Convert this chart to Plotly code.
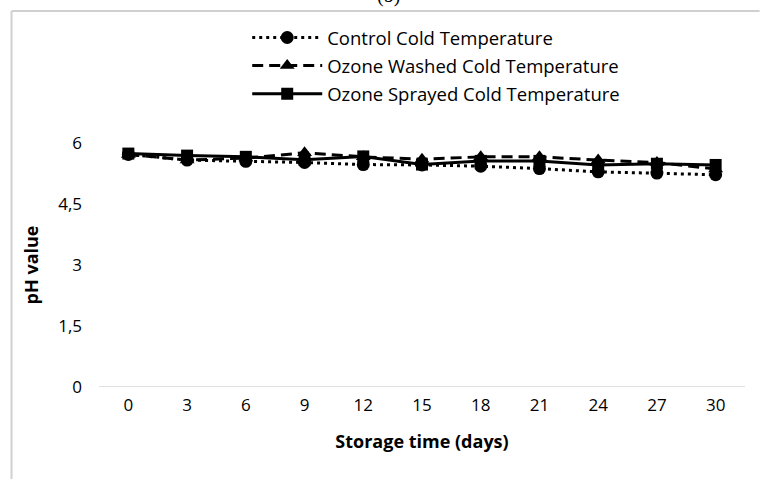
import plotly.graph_objects as go

days = [0, 3, 6, 9, 12, 15, 18, 21, 24, 27, 30]
control = [5.72, 5.58, 5.55, 5.52, 5.47, 5.46, 5.43, 5.37, 5.29, 5.26, 5.22]
washed = [5.72, 5.58, 5.63, 5.76, 5.66, 5.6, 5.66, 5.66, 5.58, 5.52, 5.36]
sprayed = [5.74, 5.69, 5.66, 5.59, 5.67, 5.47, 5.56, 5.56, 5.46, 5.49, 5.46]
names = ["Control Cold Temperature", "Ozone Washed Cold Temperature", "Ozone Sprayed Cold Temperature"]
ytick_vals = [0, 1.5, 3, 4.5, 6]
ytick_text = ["0", "1,5", "3", "4,5", "6"]

FONT = "Open Sans"
FS = 17
LFS = 18.5
TFS = 18

fig = go.Figure()
fig.add_trace(go.Scatter(x=days, y=control, name=names[0], mode="lines+markers", legendgroup="a",
                         line=dict(color="black", width=3, dash="3px,4px"),
                         marker=dict(symbol="circle", size=13, color="black")))
fig.add_trace(go.Scatter(x=days, y=washed, name=names[1], mode="lines+markers", legendgroup="b",
                         line=dict(color="black", width=3, dash="11px,6px"),
                         marker=dict(symbol="triangle-up", size=13, color="black")))
fig.add_trace(go.Scatter(x=days, y=sprayed, name=names[2], mode="lines+markers", legendgroup="c",
                         line=dict(color="black", width=3, dash="solid"),
                         marker=dict(symbol="square", size=12, color="black")))

PW = 646.8
PH = 244.0

fig.update_layout(
    width=760, height=479,
    margin=dict(l=98.6, r=14.6, t=143, b=92, autoexpand=False),
    paper_bgcolor="white", plot_bgcolor="white",
    font=dict(family=FONT, size=FS, color="black"),
    showlegend=True,
    legend=dict(x=(247 - 98.6) / PW, y=(387 - 19) / PH, xanchor="left", yanchor="top",
                itemwidth=70, tracegroupgap=1, bgcolor="rgba(0,0,0,0)",
                font=dict(family=FONT, size=LFS, color="black")),
    xaxis=dict(range=[-1.5, 31.5], tickvals=days, ticktext=[str(d) for d in days],
               showgrid=False, zeroline=False, showline=False, ticks="", automargin=False,
               ticklabelstandoff=6,
               tickfont=dict(family=FONT, size=FS),
               title=dict(text="<b>Storage time (days)</b>", font=dict(family=FONT, size=TFS), standoff=20)),
    yaxis=dict(range=[0, 6], tickvals=ytick_vals, ticktext=ytick_text,
               showgrid=False, zeroline=False, showline=False, ticks="", automargin=False,
               ticklabelstandoff=16,
               tickfont=dict(family=FONT, size=FS),
               title=dict(text="<b>pH value</b>", font=dict(family=FONT, size=TFS), standoff=14)),
    shapes=[
        dict(type="line", xref="paper", yref="y", x0=0, x1=1, y0=0, y1=0,
             line=dict(color="#d9d9d9", width=1.5), layer="below"),
        dict(type="line", xref="paper", yref="paper", x0=(11 - 98.6) / PW, x1=(760 - 98.6) / PW,
             y0=(387 - 11) / PH, y1=(387 - 11) / PH, line=dict(color="#d0d0d0", width=2)),
        dict(type="line", xref="paper", yref="paper", x0=(11 - 98.6) / PW, x1=(11 - 98.6) / PW,
             y0=(387 - 11) / PH, y1=(387 - 490) / PH, line=dict(color="#d0d0d0", width=2)),
    ],
    annotations=[dict(text="(b)", xref="paper", yref="paper", x=(388 - 98.6) / PW,
                      y=(387 - 9) / PH, xanchor="center", yanchor="bottom", showarrow=False,
                      font=dict(family="Liberation Serif", size=20))],
)

fig.write_html("out.html", post_script="document.body.style.margin='0';",
               config={"displayModeBar": False})
